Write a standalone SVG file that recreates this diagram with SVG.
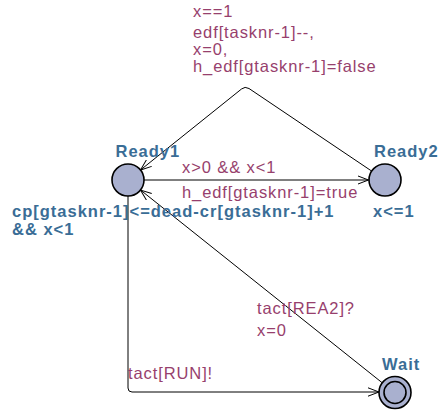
<svg xmlns="http://www.w3.org/2000/svg" width="438" height="410" viewBox="0 0 438 410">
  <style>
    .loc { fill: #a9b0cf; stroke: #000; stroke-width: 1.6; }
    .name { font-family: "Liberation Sans", Arial, sans-serif; font-size: 16.5px; font-weight: bold; fill: #3a6d96; letter-spacing: 1px; }
    .lbl { font-family: "Liberation Sans", Arial, sans-serif; font-size: 16.5px; fill: #973f6d; letter-spacing: 0.9px; }
    .edge { fill: none; stroke: #000; stroke-width: 1; }
  </style>
  <defs>
    <marker id="arrow" viewBox="0 0 12 10" refX="11" refY="5" markerWidth="12" markerHeight="10" markerUnits="userSpaceOnUse" orient="auto">
      <path d="M0,0.8 L11,5 L0,9.2" fill="none" stroke="#000" stroke-width="1"/>
    </marker>
  </defs>

  <g id="edges">
    <!-- Ready1 -> Ready2 -->
    <g id="e-ready1-ready2">
      <line class="edge" x1="144" y1="180" x2="368.5" y2="180" marker-end="url(#arrow)"/>
      <text class="lbl" x="182" y="173">x&gt;0 &amp;&amp; x&lt;1</text>
      <text class="lbl" x="182" y="198">h_edf[gtasknr-1]=true</text>
    </g>
    <!-- Ready2 -> Ready1 via nail -->
    <g id="e-ready2-ready1">
      <path class="edge" d="M371.7,171.1 L249,88.5 Q245,86 241.5,89 L140.5,170" marker-end="url(#arrow)"/>
      <text class="lbl" x="193" y="17">x==1</text>
      <text class="lbl" x="193" y="37.5">edf[tasknr-1]--,</text>
      <text class="lbl" x="193" y="54.5">x=0,</text>
      <text class="lbl" x="193" y="72">h_edf[gtasknr-1]=false</text>
    </g>
    <!-- Ready1 -> Wait -->
    <g id="e-ready1-wait">
      <path class="edge" d="M128,196 L128,388 Q128,392 132,392 L379,392" marker-end="url(#arrow)"/>
      <text class="lbl" x="128" y="379">tact[RUN]!</text>
    </g>
    <!-- Wait -> Ready1 -->
    <g id="e-wait-ready1">
      <line class="edge" x1="382.5" y1="383" x2="140.5" y2="190" marker-end="url(#arrow)"/>
      <text class="lbl" x="257" y="314">tact[REA2]?</text>
      <text class="lbl" x="257" y="336">x=0</text>
    </g>
  </g>

  <g id="Ready1">
    <circle class="loc" cx="128" cy="180" r="16"/>
    <text class="name" x="115.5" y="157">Ready1</text>
    <text class="name" x="12" y="217">cp[gtasknr-1]&lt;=dead-cr[gtasknr-1]+1</text>
    <text class="name" x="12" y="235">&amp;&amp; x&lt;1</text>
  </g>

  <g id="Ready2">
    <circle class="loc" cx="385" cy="180" r="16"/>
    <text class="name" x="374" y="157">Ready2</text>
    <text class="name" x="373" y="217">x&lt;=1</text>
  </g>

  <g id="Wait">
    <circle class="loc" cx="395" cy="392.5" r="16"/>
    <circle class="loc" cx="395" cy="392.5" r="11"/>
    <text class="name" x="382" y="370">Wait</text>
  </g>
</svg>
